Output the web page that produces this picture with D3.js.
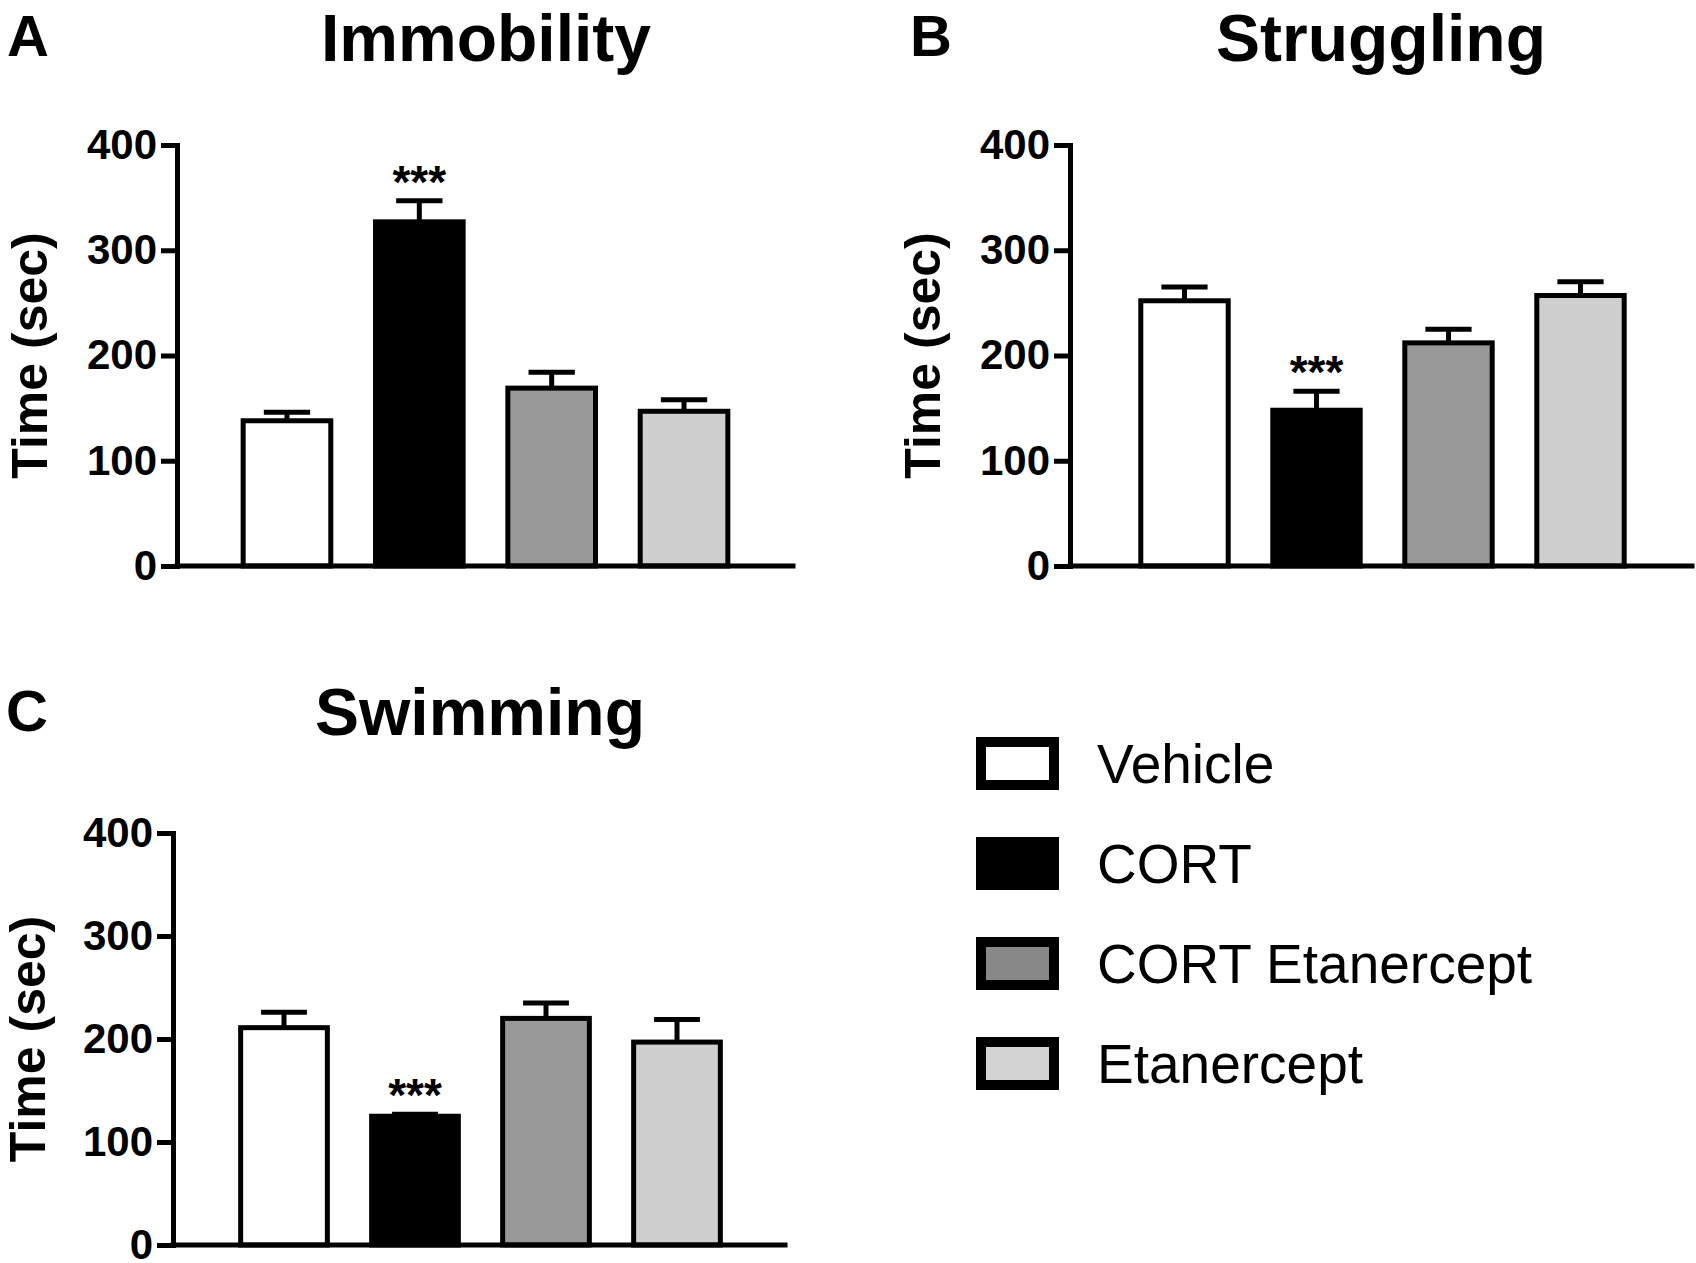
<!DOCTYPE html>
<html lang="en">
<head>
<meta charset="UTF-8">
<title>Forced swim test</title>
<script src="https://d3js.org/d3.v7.min.js"></script>
<style>
  body, html { margin: 0; padding: 0; background: #fff; }
  svg { display: block; }
  text { font-family: "Liberation Sans", Arial, Helvetica, sans-serif; fill: #000; }
</style>
</head>
<body>
<svg></svg>
<script>
// groups and their fills
const groups = ["Vehicle", "CORT", "CORT Etanercept", "Etanercept"];
const barFills = ["#ffffff", "#000000", "#999999", "#cfcfcf"];
const legendFills = ["#ffffff", "#000000", "#888888", "#d3d3d3"];

// mean time (sec) and error per group
const immobilityMean = [138, 327, 169, 147];
const immobilityErr = [8, 20, 15, 11];
const strugglingMean = [252, 148, 212, 257];
const strugglingErr = [13, 18, 13, 13];
const swimmingMean = [211, 125, 220, 197];
const swimmingErr = [15, 2, 15, 22];
const stars = ["", "***", "", ""];

const yTicks = [0, 100, 200, 300, 400];

const W = 1696, H = 1263;
const svg = d3.select("svg").attr("width", W).attr("height", H);

// panel layout
const panels = [
  { letter: "A", title: "Immobility", mean: immobilityMean, err: immobilityErr,
    lx: 7, ly: 56, tx: 486, ty: 61,
    ax0: 177, ax1: 793, yBot: 566, yTop: 145, band: [220.8, 750.2], ylx: 47 },
  { letter: "B", title: "Struggling", mean: strugglingMean, err: strugglingErr,
    lx: 910, ly: 56, tx: 1381, ty: 61,
    ax0: 1070, ax1: 1692, yBot: 566, yTop: 145, band: [1118.5, 1646.5], ylx: 940 },
  { letter: "C", title: "Swimming", mean: swimmingMean, err: swimmingErr,
    lx: 6, ly: 731, tx: 480, ty: 735,
    ax0: 173, ax1: 785, yBot: 1245, yTop: 833, band: [218.5, 742.5], ylx: 45 }
];

const sw = 5;

panels.forEach(p => {
  const g = svg.append("g");

  const x = d3.scaleBand().domain(groups).range(p.band).paddingInner(0.3).paddingOuter(0.15);
  const y = d3.scaleLinear().domain([0, 400]).range([p.yBot, p.yTop]);

  g.append("text")
    .attr("x", p.lx).attr("y", p.ly)
    .attr("font-size", 58).attr("font-weight", "bold")
    .text(p.letter);

  g.append("text")
    .attr("x", p.tx).attr("y", p.ty)
    .attr("text-anchor", "middle")
    .attr("font-size", 66).attr("font-weight", "bold")
    .text(p.title);

  g.append("text")
    .attr("transform", `translate(${p.ylx},${(p.yBot + p.yTop) / 2}) rotate(-90)`)
    .attr("text-anchor", "middle")
    .attr("font-size", 50).attr("font-weight", "bold")
    .text("Time (sec)");

  // bars
  g.selectAll("rect.bar")
    .data(groups)
    .enter().append("rect")
      .attr("class", "bar")
      .attr("x", d => x(d) + sw / 2)
      .attr("width", x.bandwidth() - sw)
      .attr("y", (d, i) => y(p.mean[i]))
      .attr("height", (d, i) => y(0) - y(p.mean[i]))
      .attr("fill", (d, i) => barFills[i])
      .attr("stroke", "#000")
      .attr("stroke-width", sw);

  // error bars (upper only)
  const eb = g.selectAll("g.err").data(groups).enter().append("g").attr("class", "err");
  eb.append("line")
    .attr("x1", d => x(d) + x.bandwidth() / 2)
    .attr("x2", d => x(d) + x.bandwidth() / 2)
    .attr("y1", (d, i) => y(p.mean[i]))
    .attr("y2", (d, i) => y(p.mean[i] + p.err[i]))
    .attr("stroke", "#000").attr("stroke-width", sw);
  eb.append("line")
    .attr("x1", d => x(d) + x.bandwidth() * 0.25)
    .attr("x2", d => x(d) + x.bandwidth() * 0.75)
    .attr("y1", (d, i) => y(p.mean[i] + p.err[i]))
    .attr("y2", (d, i) => y(p.mean[i] + p.err[i]))
    .attr("stroke", "#000").attr("stroke-width", sw);

  // significance
  g.selectAll("text.sig")
    .data(groups)
    .enter().append("text")
      .attr("class", "sig")
      .attr("x", d => x(d) + x.bandwidth() / 2)
      .attr("y", (d, i) => y(p.mean[i] + p.err[i]) - 3)
      .attr("text-anchor", "middle")
      .attr("font-size", 46).attr("font-weight", "bold")
      .text((d, i) => stars[i]);

  // y axis
  const ax = g.append("g")
    .attr("transform", `translate(${p.ax0},0)`)
    .call(d3.axisLeft(y).tickValues(yTicks).tickSize(16).tickPadding(4).tickSizeOuter(0));
  ax.select(".domain").attr("stroke-width", sw).attr("stroke-linecap", "square");
  ax.selectAll(".tick line").attr("stroke-width", sw);
  ax.selectAll(".tick text")
    .attr("font-size", 42).attr("font-weight", "bold")
    .style("font-family", "'Liberation Sans', Arial, sans-serif");

  // x axis baseline
  g.append("line")
    .attr("x1", p.ax0).attr("x2", p.ax1)
    .attr("y1", y(0)).attr("y2", y(0))
    .attr("stroke", "#000").attr("stroke-width", sw)
    .attr("stroke-linecap", "square");
});

// legend
const legY = d3.scalePoint().domain(groups).range([763.5, 1063.5]);
const leg = svg.append("g").selectAll("g").data(groups).enter().append("g")
  .attr("transform", d => `translate(0,${legY(d)})`);
leg.append("rect")
  .attr("x", 981).attr("y", -21.5)
  .attr("width", 73).attr("height", 43)
  .attr("fill", (d, i) => legendFills[i])
  .attr("stroke", "#000").attr("stroke-width", 10);
leg.append("text")
  .attr("x", 1097).attr("y", 0)
  .attr("dy", "0.36em")
  .attr("font-size", 55)
  .text(d => d);
</script>
</body>
</html>
